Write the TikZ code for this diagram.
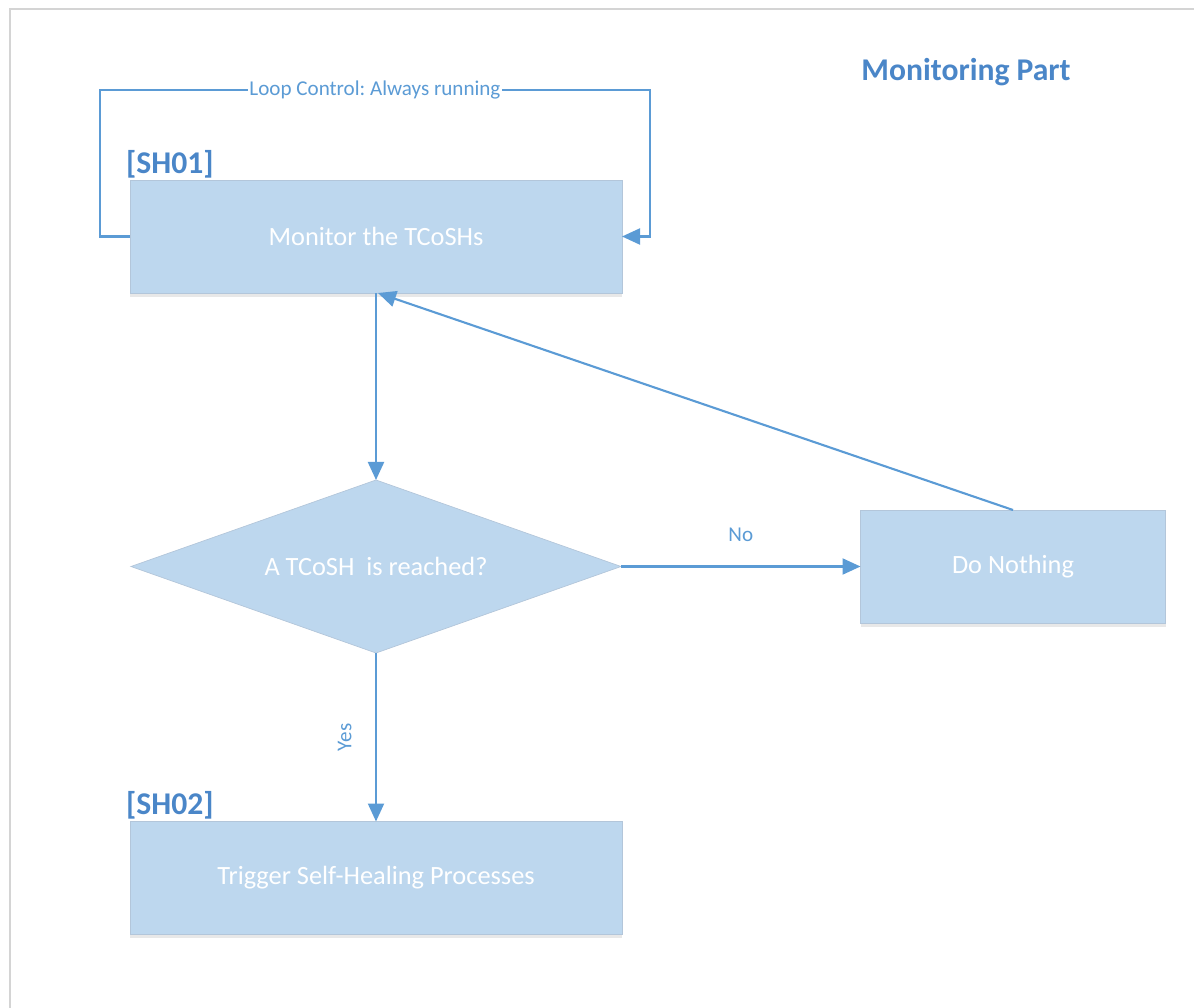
\documentclass[tikz,border=0pt]{standalone}
\usepackage{fontspec}
\setmainfont{Carlito}
\frenchspacing
\usepackage{tikz}
\usetikzlibrary{shapes.geometric, arrows.meta, shadows}
\definecolor{boxfill}{HTML}{BDD7EE}
\definecolor{boxedge}{HTML}{B3C6DA}
\definecolor{linecol}{HTML}{5B9BD5}
\definecolor{tagcol}{HTML}{4A86C8}
\definecolor{framecol}{HTML}{D4D4D4}
\tikzstyle{process} = [rectangle, minimum width=9.84cm, minimum
height=2.26cm, text centered, draw=boxedge, fill=boxfill, text=white,
font=\fontsize{15}{18}\selectfont, outer sep=0pt,
drop shadow={shadow xshift=0pt, shadow yshift=-2pt, opacity=0.18, fill=gray}]
\tikzstyle{decision} = [diamond, aspect=2.83, minimum width=9.8cm, minimum
height=3.46cm, inner sep=0pt, text centered, draw=boxedge, fill=boxfill,
text=white, font=\fontsize{15}{18}\selectfont, outer sep=0pt]
\tikzstyle{tag} = [anchor=south west, inner sep=1pt, text=tagcol,
font=\fontsize{18}{21}\selectfont\bfseries]
\tikzstyle{lbl} = [text=linecol, font=\fontsize{12}{14}\selectfont]
\tikzstyle{arrow} =
[line width=1.2pt, draw=linecol, -{Triangle[length=3.6mm,width=3.2mm]}]

\begin{document}
\begin{tikzpicture}[node distance=6.6cm]
\useasboundingbox (0,0) rectangle (23.88,-20.16);
\draw[framecol, line width=1.5pt] (0.2,-20.16) -- (0.2,-0.18) -- (23.88,-0.18);

\node(title)[text=tagcol, font=\fontsize{18}{21}\selectfont\bfseries] at
(19.32,-1.44) {Monitoring Part};

\node(mon)[process] at (7.52,-4.73) {Monitor the TCoSHs};
\node(sh01)[tag, xshift=-0.12cm] at (mon.north west) {[SH01]};

\node(ask)[decision, below of=mon]{A TCoSH\ \ is reached?};

\node(none)[process, right of=ask, xshift=6.14cm, minimum width=6.1cm]{Do
Nothing};

\node(heal)[process, below of=ask, yshift=0.37cm]{Trigger Self-Healing
Processes};
\node(sh02)[tag, xshift=-0.12cm] at (heal.north west) {[SH02]};

\draw[arrow](mon.west) -- ++(-0.6,0) |- node[lbl, pos=0.75, fill=white,
inner sep=1pt]{Loop Control: Always running} ([xshift=0.56cm]mon.east
|- 0,-1.8) -- ([xshift=0.56cm]mon.east) -- (mon.east);
\draw[arrow](mon) -- (ask);
\draw[arrow](ask) -- node[lbl, above=0.35cm]{No}(none);
\draw[arrow](ask) -- node[lbl, rotate=90, above=0.35cm]{Yes}(heal);
\draw[arrow](none.north) -- ([xshift=0.04cm]mon.south);

\end{tikzpicture}
\end{document}
